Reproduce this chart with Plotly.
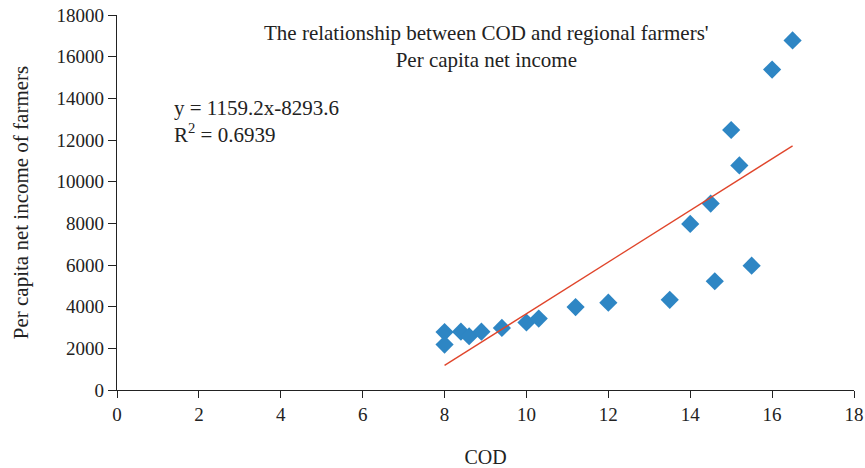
import plotly.graph_objects as go

cod = [8.0, 8.0, 8.4, 8.6, 8.9, 9.4, 10.0, 10.3, 11.2, 12.0, 13.5, 14.6, 15.5,
       14.0, 14.5, 15.2, 15.0, 16.0, 16.5]
income = [2780, 2180, 2800, 2580, 2800, 2980, 3240, 3430, 3980, 4190, 4330, 5220, 5970,
          7970, 8950, 10780, 12480, 15380, 16780]

trend_x = [8.0, 16.5]
trend_y = [1180, 11720]

x_ticks = list(range(0, 19, 2))
y_ticks = list(range(0, 18001, 2000))
y_tick_text = [str(v) for v in y_ticks]

FONT = "Liberation Serif"

fig = go.Figure()
fig.add_trace(go.Scatter(
    x=cod, y=income, mode="markers",
    marker=dict(symbol="diamond", size=14, color="#2E86C4"),
    showlegend=False, hoverinfo="x+y"))
fig.add_trace(go.Scatter(
    x=trend_x, y=trend_y, mode="lines",
    line=dict(color="#E0452B", width=1.3),
    showlegend=False, hoverinfo="skip"))

fig.update_layout(
    width=865, height=468,
    margin=dict(l=117, r=11, t=15, b=78),
    paper_bgcolor="white", plot_bgcolor="white",
    font=dict(family=FONT, size=18, color="#222222"),
    xaxis=dict(range=[0, 18], tickvals=x_ticks, showgrid=False, zeroline=False,
               showline=True, linecolor="#222222", linewidth=1.2, automargin=False,
               ticks="outside", ticklen=7, tickcolor="#222222",
               title=dict(text="COD", standoff=27, font=dict(size=20)),
               tickfont=dict(size=19)),
    yaxis=dict(range=[0, 18000], tickvals=y_ticks, ticktext=y_tick_text,
               showgrid=False, zeroline=False, automargin=False,
               showline=True, linecolor="#222222", linewidth=1.2,
               ticks="outside", ticklen=8, tickcolor="#222222",
               title=dict(text="Per capita net income of farmers", standoff=22,
                          font=dict(size=21)),
               tickfont=dict(size=19)),
    annotations=[
        dict(text="The relationship between COD and regional farmers'<br>Per capita net income",
             xref="paper", yref="paper", x=0.502, y=0.917, showarrow=False,
             xanchor="center", yanchor="middle", align="center",
             font=dict(size=21, family=FONT)),
        dict(text="y = 1159.2x-8293.6<br>R<sup>2</sup> = 0.6939",
             xref="paper", yref="paper", x=0.075, y=0.715, showarrow=False,
             xanchor="left", yanchor="middle", align="left",
             font=dict(size=21, family=FONT)),
    ],
)

fig.write_html("out.html",
               config={"displayModeBar": False},
               post_script="document.body.style.margin='0';document.body.style.overflow='hidden';")
